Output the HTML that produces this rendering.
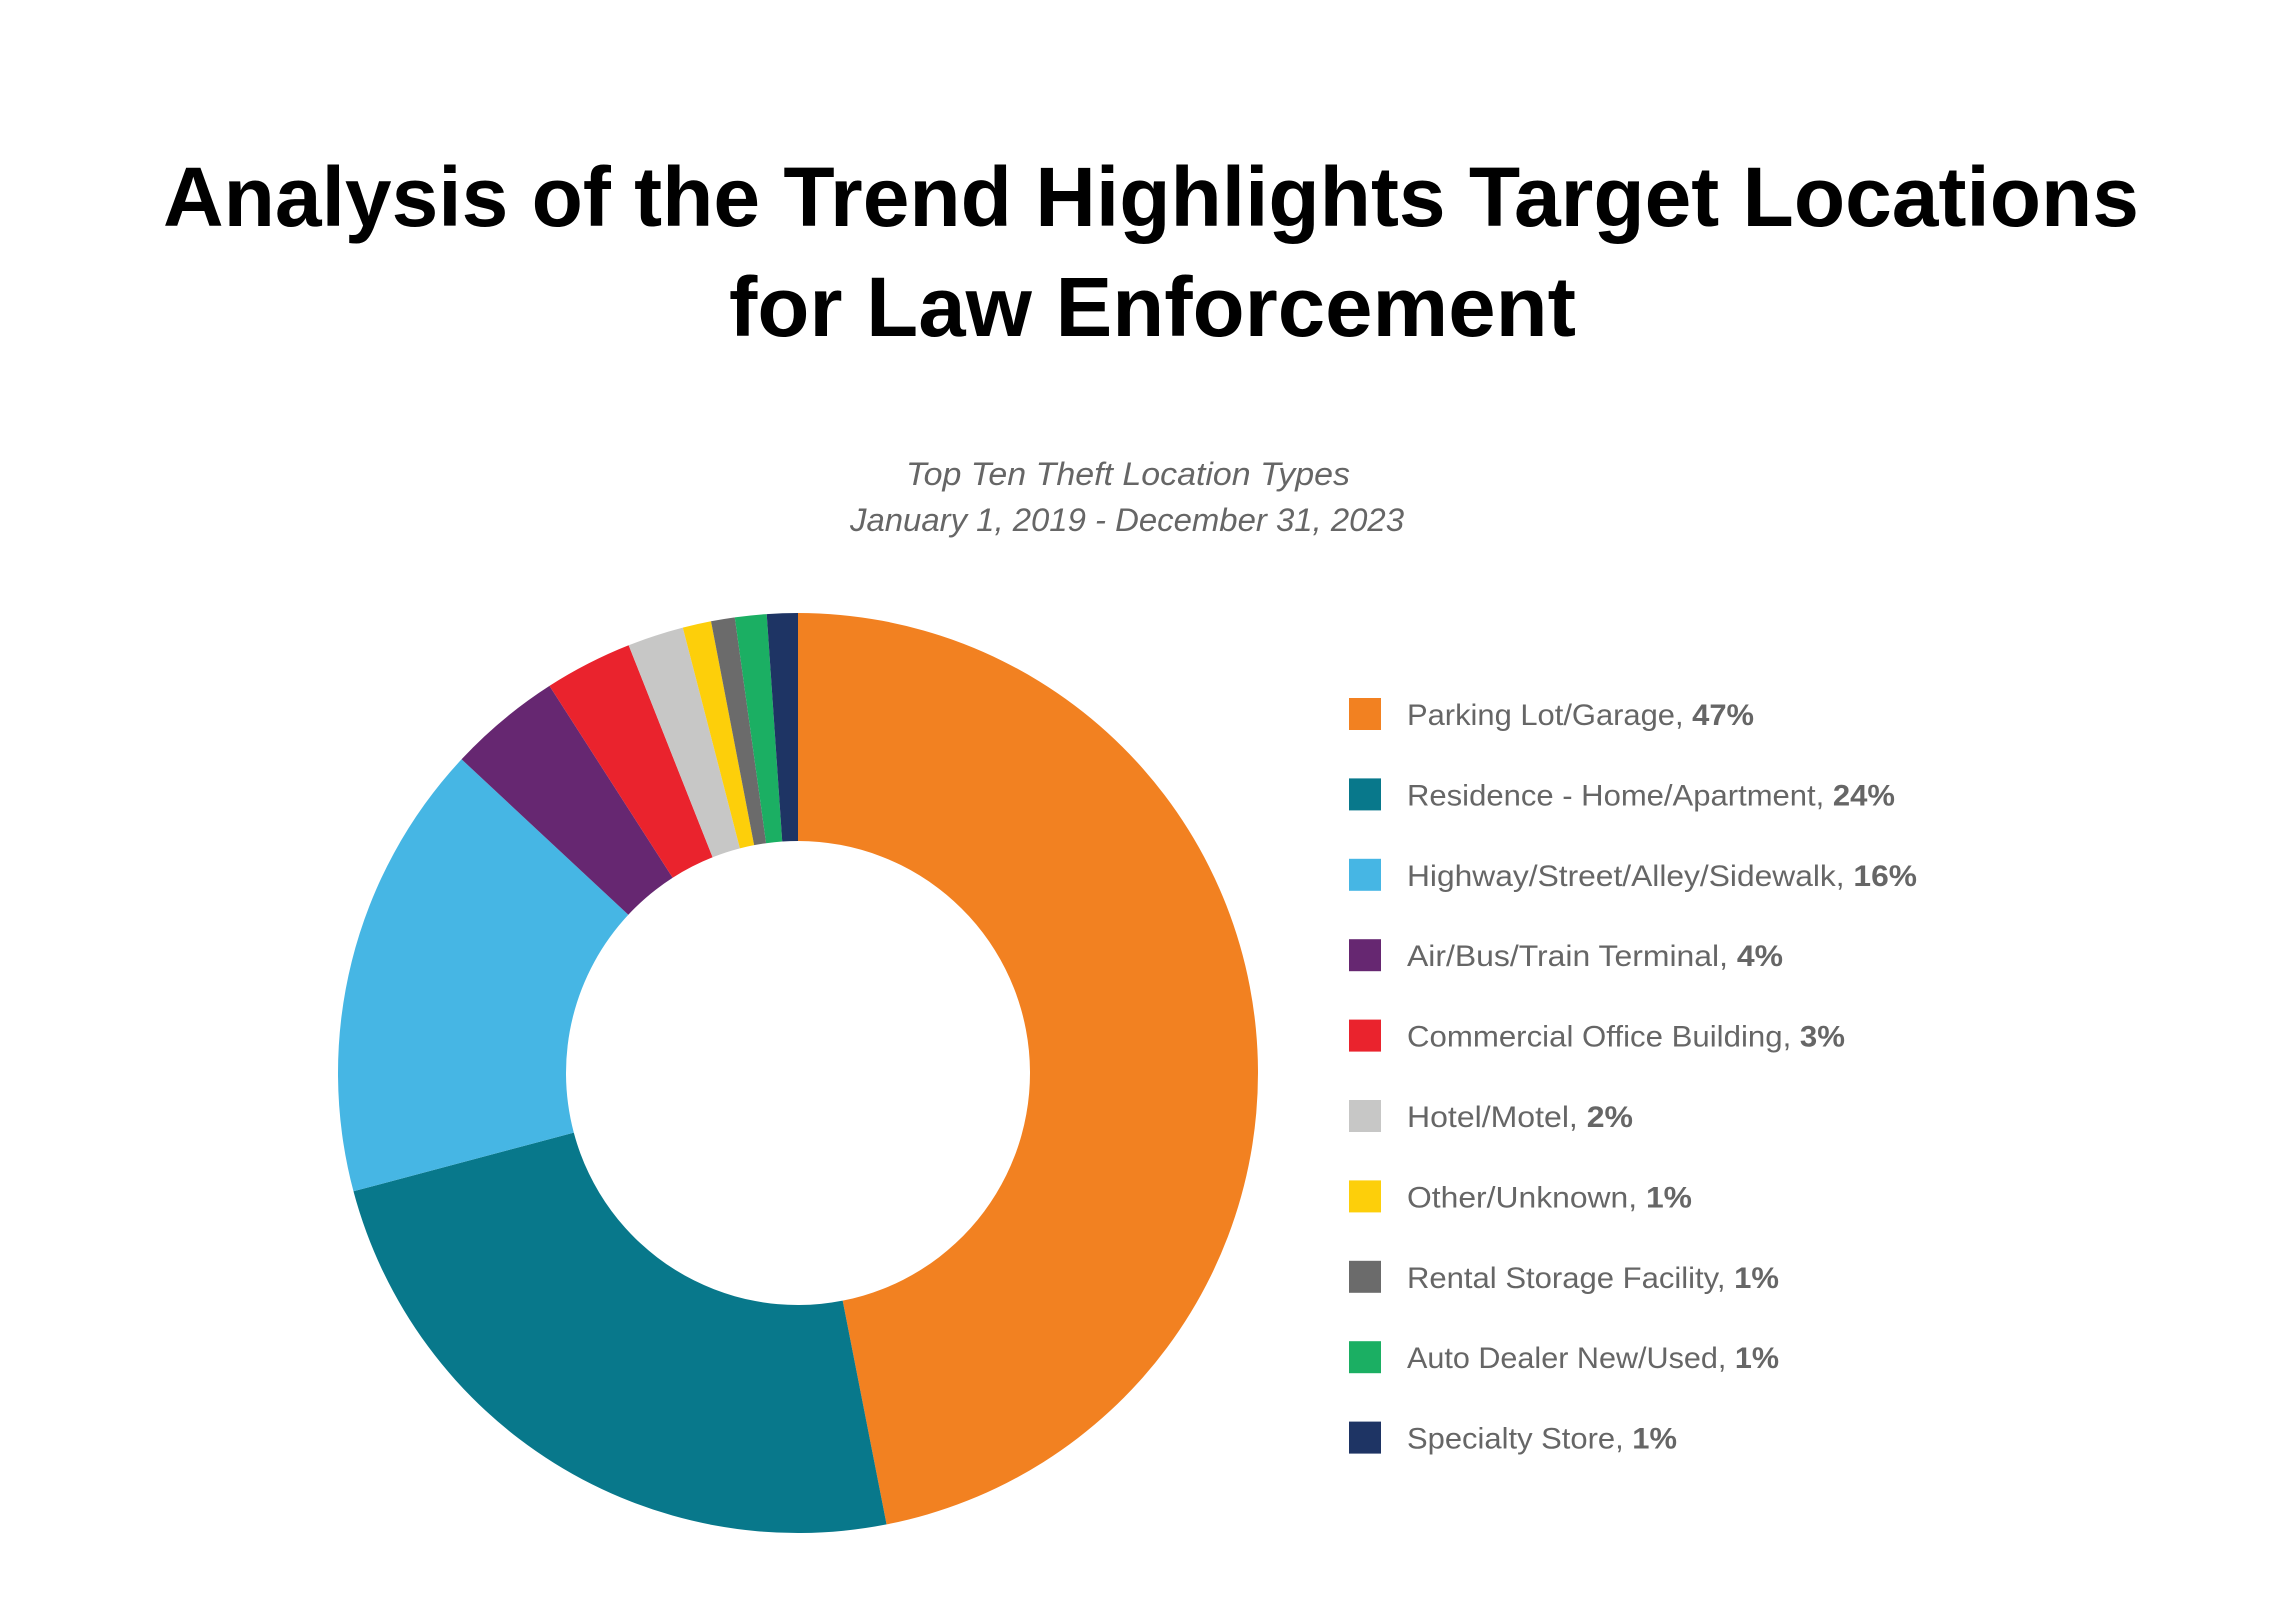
<!DOCTYPE html>
<html><head><meta charset="utf-8"><style>
html,body{margin:0;padding:0;background:#fff;}
svg{display:block;}
</style></head><body>
<svg id="s" width="2293" height="1620" xmlns="http://www.w3.org/2000/svg">
<rect width="2293" height="1620" fill="#fff"/>
<g font-family="Liberation Sans, sans-serif" font-weight="bold" fill="#000" font-size="84">
<text x="163" y="226" textLength="1976" lengthAdjust="spacingAndGlyphs">Analysis of the Trend Highlights Target Locations</text>
<text x="729" y="336" textLength="847" lengthAdjust="spacingAndGlyphs">for Law Enforcement</text>
</g>
<g font-family="Liberation Sans, sans-serif" font-style="italic" fill="#666" font-size="32">
<text x="906" y="485" textLength="444" lengthAdjust="spacingAndGlyphs">Top Ten Theft Location Types</text>
<text x="850" y="531" textLength="554" lengthAdjust="spacingAndGlyphs">January 1, 2019 - December 31, 2023</text>
</g>
<g id="pie"></g>
<g id="leg" font-family="Liberation Sans, sans-serif" fill="#666" font-size="30"></g>
</svg>
<script>
var cx=798,cy=1073,R=460,r=232;
var data=[[0,168.9,"#F28121"],[168.9,255.1,"#08788B"],[255.1,313,"#46B6E4"],[313,327.3,"#662771"],[327.3,338.4,"#EA232D"],[338.4,345.5,"#C7C7C6"],[345.5,349.1,"#FDCF0A"],[349.1,352.1,"#6B6B6B"],[352.1,356.1,"#1BAF63"],[356.1,360,"#1E3464"]];
function pt(a,rad){a=a*Math.PI/180;return [cx+rad*Math.sin(a),cy-rad*Math.cos(a)];}
var g=document.getElementById("pie"),ns="http://www.w3.org/2000/svg";
data.forEach(function(d){var a0=d[0],a1=d[1],l=(a1-a0)>180?1:0;
var p0=pt(a0,R),p1=pt(a1,R),q1=pt(a1,r),q0=pt(a0,r);
var p=document.createElementNS(ns,"path");
p.setAttribute("d","M"+p0+" A"+R+","+R+" 0 "+l+" 1 "+p1+" L"+q1+" A"+r+","+r+" 0 "+l+" 0 "+q0+" Z");
p.setAttribute("fill",d[2]);g.appendChild(p);});
var items=[["Parking Lot/Garage, ","47%",1754],["Residence - Home/Apartment, ","24%",1895],["Highway/Street/Alley/Sidewalk, ","16%",1917],["Air/Bus/Train Terminal, ","4%",1783],["Commercial Office Building, ","3%",1845],["Hotel/Motel, ","2%",1633],["Other/Unknown, ","1%",1692],["Rental Storage Facility, ","1%",1779],["Auto Dealer New/Used, ","1%",1779],["Specialty Store, ","1%",1677]];
var lg=document.getElementById("leg");
items.forEach(function(it,i){var c=714+i*80.4;
var rc=document.createElementNS(ns,"rect");rc.setAttribute("x",1349);rc.setAttribute("y",c-16);rc.setAttribute("width",32);rc.setAttribute("height",32);rc.setAttribute("fill",data[i][2]);lg.appendChild(rc);
var t=document.createElementNS(ns,"text");t.setAttribute("x",1407);t.setAttribute("y",c+11);t.setAttribute("textLength",it[2]-1407);t.setAttribute("lengthAdjust","spacingAndGlyphs");
t.appendChild(document.createTextNode(it[0]));var b=document.createElementNS(ns,"tspan");b.setAttribute("font-weight","bold");b.textContent=it[1];t.appendChild(b);lg.appendChild(t);});
</script>
</body></html>
